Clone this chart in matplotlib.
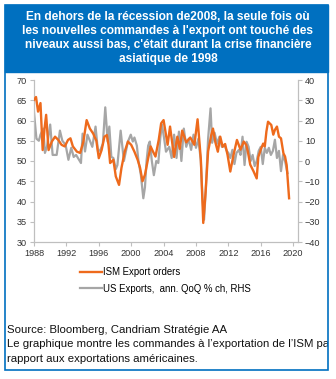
import numpy as np
import matplotlib
matplotlib.use('Agg')
import matplotlib.pyplot as plt
from matplotlib.patches import Rectangle

plt.rcParams['font.family'] = ['Liberation Sans', 'DejaVu Sans']

# ISM export orders (left axis)
ism_year = [1988.0, 1988.25, 1988.5, 1988.8, 1989.07, 1989.3, 1989.5, 1989.8, 1990.2, 1990.6,
            1991.0, 1991.4, 1991.8, 1992.2, 1992.5, 1992.8, 1993.3, 1993.7, 1994.1, 1994.5,
            1994.9, 1995.3, 1995.7, 1996.0, 1996.35, 1996.7, 1997.0, 1997.2, 1997.4, 1997.8,
            1998.1, 1998.5, 1998.8, 1999.2, 1999.6, 2000.0, 2000.4, 2000.8, 2001.1, 2001.4,
            2001.7, 2002.1, 2002.4, 2002.7, 2003.0, 2003.4, 2003.7, 2004.0, 2004.5, 2004.8,
            2005.3, 2005.7, 2006.0, 2006.3, 2006.8, 2007.3, 2007.8, 2008.2, 2008.6, 2008.9,
            2009.2, 2009.5, 2009.9, 2010.1, 2010.4, 2010.7, 2011.0, 2011.3, 2011.6, 2011.9,
            2012.24, 2012.65, 2013.06, 2013.5, 2013.9, 2014.2, 2014.4, 2014.7, 2015.1, 2015.5,
            2015.7, 2016.0, 2016.3, 2016.5, 2016.7, 2016.9, 2017.3, 2017.55, 2017.75, 2018.0,
            2018.25, 2018.5, 2018.8, 2019.0, 2019.2, 2019.5]
ism_val = [65.1, 65.8, 62.2, 64.3, 52.7, 58.0, 61.4, 52.7, 54.8, 56.0,
           55.2, 54.0, 53.6, 55.2, 55.6, 53.6, 52.3, 52.0, 54.8, 60.1,
           58.0, 56.8, 55.0, 50.7, 52.7, 56.0, 56.4, 54.0, 49.5, 50.3,
           46.2, 44.1, 48.3, 52.3, 54.8, 54.0, 52.3, 50.3, 48.3, 45.0,
           46.6, 50.7, 53.6, 52.3, 51.1, 55.2, 59.3, 60.1, 54.0, 58.5,
           51.0, 56.0, 53.0, 57.5, 54.6, 55.8, 54.0, 60.3, 50.5, 34.7,
           42.6, 52.4, 56.5, 58.0, 54.6, 52.3, 56.0, 53.5, 54.2, 51.5,
           47.4, 51.6, 55.2, 52.8, 54.8, 54.0, 52.4, 49.1, 47.5, 45.7,
           51.0, 52.8, 54.3, 53.6, 57.3, 59.7, 58.9, 56.5, 57.7, 58.5,
           56.0, 55.6, 51.9, 51.1, 49.0, 40.8]

# US exports, annualised QoQ % change (right axis)
exp_year = [1988.0, 1988.3, 1988.6, 1988.8, 1989.15, 1989.35, 1989.6, 1990.0, 1990.3, 1990.8,
            1991.2, 1991.5, 1991.9, 1992.25, 1992.6, 1992.9, 1993.2, 1993.8, 1994.0, 1994.3,
            1994.6, 1994.9, 1995.2, 1995.6, 1995.9, 1996.2, 1996.5, 1996.8, 1997.1, 1997.3,
            1997.55, 1997.8, 1998.1, 1998.3, 1998.5, 1998.7, 1999.1, 1999.6, 1999.95, 2000.2,
            2000.4, 2000.7, 2000.9, 2001.2, 2001.5, 2001.7, 2001.9, 2002.1, 2002.3, 2002.55,
            2002.8, 2003.1, 2003.35, 2003.6, 2003.8, 2004.05, 2004.3, 2004.7, 2005.0, 2005.3,
            2005.6, 2005.9, 2006.2, 2006.5, 2006.8, 2007.1, 2007.4, 2007.7, 2008.0, 2008.3,
            2008.6, 2008.8, 2009.0, 2009.2, 2009.5, 2009.8, 2010.0, 2010.3, 2010.6, 2010.9,
            2011.2, 2011.5, 2011.8, 2012.0, 2012.25, 2012.5, 2012.75, 2013.0, 2013.3, 2013.5,
            2013.75, 2014.0, 2014.25, 2014.5, 2014.75, 2015.0, 2015.25, 2015.5, 2015.75, 2016.0,
            2016.25, 2016.5, 2016.75, 2017.0, 2017.25, 2017.5, 2017.75, 2018.0, 2018.25, 2018.5,
            2018.75, 2019.0, 2019.3]
exp_val = [24, 11, 10, 13, 16, 4, 7, 18, 3, 3,
           15, 10, 8, 0.6, 6.5, 2, 3, -1, 13.5, 4.7,
           13, 10, 7, 17, 4.7, 5.5, 8.5, 26.5, 9.6, 17,
           2, 1.5, -4, -2, 6.5, 15, 0, 9.6, 13, 9.6,
           11.6, 7.6, 0, -7, -18.4, -13, 0, 7.6, 9.6, 0,
           -7, 0, -1, 11.6, 18, 11.6, 4.6, 7, 1.5, 13,
           1.5, 14.5, 0, 16, 7, 11, 5.5, 13, 6.5, 11,
           0, -18, -29, -15, 11, 26, 9, 14, 8.5, 12,
           7, 8, 5, 4, 1.5, 5.5, -1.5, 4, 5.5, 3,
           12, -2, 9.5, 7, 0, 3, -2.5, 0, 5, 7,
           -1.5, 6.5, 4, 6.5, 3, 5, 10.5, 1.5, 5, -5,
           3, 0, -6]

years = [1988, 1992, 1996, 2000, 2004, 2008, 2012, 2016, 2020]

orange = '#EE6A1C'
grey = '#A6A6A6'
blue = '#0070C0'
axis_col = '#BFBFBF'

fig = plt.figure(figsize=(3.36, 3.79), dpi=100)

# frame and title band
fig.patches.append(Rectangle((5/336, 1-370/379), 323/336, 365/379, transform=fig.transFigure,
                             fill=False, edgecolor=blue, lw=1.2, zorder=5))
fig.patches.append(Rectangle((5/336, 1-72/379), 323/336, 67/379, transform=fig.transFigure,
                             facecolor=blue, edgecolor=blue, lw=1.0))
fig.text(0.5, 1-38/379,
         "En dehors de la récession de2008, la seule fois où\n"
         "les nouvelles commandes à l'export ont touché des\n"
         "niveaux aussi bas, c'était durant la crise financière\n"
         "asiatique de 1998",
         ha='center', va='center', color='white', fontsize=8.6, fontweight='bold',
         linespacing=1.2)

ax = fig.add_axes([34/336, 1-242/379, 264/336, 162/379])
ax2 = ax.twinx()

l1, = ax.plot(ism_year, ism_val, color=orange, lw=1.7, zorder=3)
l2, = ax2.plot(exp_year, exp_val, color=grey, lw=1.6)
ax.set_zorder(ax2.get_zorder() + 1)
ax.patch.set_visible(False)

ax.set_xlim(1988, 2020.6)
ax.set_ylim(30, 70)
ax2.set_ylim(-40, 40)
ax.set_xticks(years)
ax.set_yticks(range(30, 71, 5))
ax2.set_yticks(range(-40, 41, 10))

for a in (ax, ax2):
    a.spines['top'].set_visible(False)
    for s in ('left', 'right', 'bottom'):
        a.spines[s].set_color(axis_col)
        a.spines[s].set_linewidth(0.8)
    a.tick_params(axis='both', colors=axis_col, labelcolor='#333333', labelsize=6.6,
                  length=3, width=0.8, pad=2)

fig.legend([l1, l2], ['ISM Export orders', 'US Exports,  ann. QoQ % ch, RHS'],
           loc='upper left', bbox_to_anchor=(80/336, 1-267/379), frameon=False,
           fontsize=6.9, handlelength=2.3, handletextpad=0.15, labelspacing=0.7,
           borderpad=0, borderaxespad=0)

src = fig.text(7/336, 1-325/379,
               "Source: Bloomberg, Candriam Stratégie AA\n"
               "Le graphique montre les commandes à l\u2019exportation de l\u2019ISM par\n"
               "rapport aux exportations américaines.",
               ha='left', va='top', fontsize=8.2, color='#111111', linespacing=1.55)
src.set_clip_path(Rectangle((5/336, 0), 323/336, 1, transform=fig.transFigure))

fig.savefig('out.png', dpi=100)
